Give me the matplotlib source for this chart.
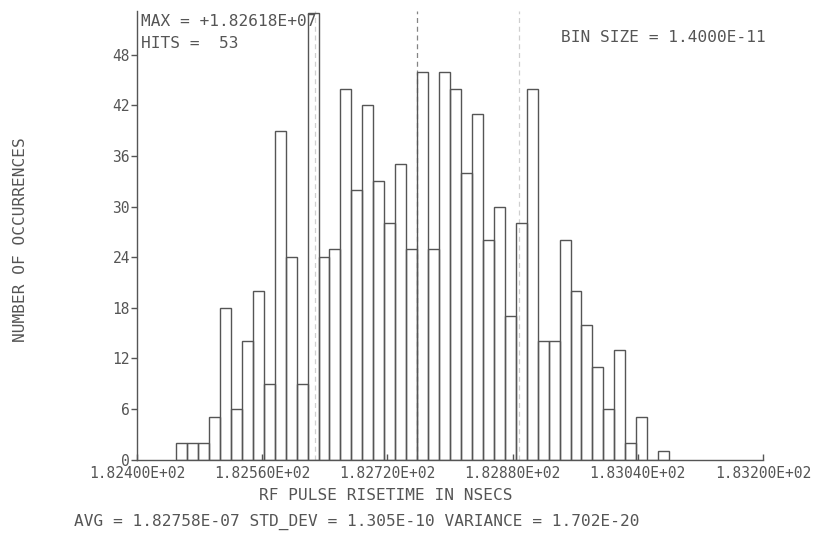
import matplotlib
matplotlib.use('Agg')  # no display
import matplotlib.pyplot as plt
import numpy as np

# histogram of RF pulse risetime (nsecs), one count per 0.014 ns bin
bin_start = 182.450
bin_size = 0.014
counts = [2, 2, 2, 5, 18, 6, 14, 20, 9, 39, 24, 9, 53, 24, 25, 44, 32, 42,
          33, 28, 35, 25, 46, 25, 46, 44, 34, 41, 26, 30, 17, 28, 44, 14, 14,
          26, 20, 16, 11, 6, 13, 2, 5, 0, 1]

x_ticks = [182.400, 182.560, 182.720, 182.880, 183.040, 183.200]
x_tick_labels = ['1.82400E+02', '1.82560E+02', '1.82720E+02',
                 '1.82880E+02', '1.83040E+02', '1.83200E+02']
y_ticks = [0, 6, 12, 18, 24, 30, 36, 42, 48]
y_tick_labels = ['0', '6', '12', '18', '24', '30', '36', '42', '48']

avg = 182.758
std_dev = 0.1305

W, H = 818, 536
INK = '#555555'
FONT = 'DejaVu Sans Mono'

fig = plt.figure(figsize=(W / 100, H / 100), dpi=100)
fig.patch.set_facecolor('white')

def fx(px):
    return px / W

def fy(py):
    return 1 - py / H

ax = fig.add_axes([fx(137), fy(459.5), fx(763) - fx(137), fy(11) - fy(459.5)])

# bars drawn as open rectangles
edges = bin_start + bin_size * np.arange(len(counts))
ax.bar(edges, counts, width=bin_size, align='edge', fill=False,
       edgecolor=INK, linewidth=1.0, zorder=3)

# dashed markers at the mean and mean +/- one standard deviation
for xv, a in [(avg, 0.9), (avg - std_dev, 0.35), (avg + std_dev, 0.35)]:
    ax.axvline(xv, ymin=0, ymax=1, color='#777777', linestyle=(0, (4, 3)),
               linewidth=0.9, alpha=a, zorder=2)

ax.set_xlim(x_ticks[0], x_ticks[-1])
ax.set_ylim(0, 53.2)

ax.spines['top'].set_visible(False)
ax.spines['right'].set_visible(False)
for s in ('left', 'bottom'):
    ax.spines[s].set_color(INK)
    ax.spines[s].set_linewidth(1.0)

ax.set_xticks(x_ticks)
ax.set_xticklabels(x_tick_labels, fontfamily=FONT, fontsize=10.5, color=INK)
ax.set_yticks(y_ticks)
ax.set_yticklabels(y_tick_labels, fontfamily=FONT, fontsize=10.5, color=INK)
ax.tick_params(axis='x', direction='in', length=4, width=1, color=INK, pad=5)
ax.tick_params(axis='y', direction='out', length=4, width=1, color=INK, pad=1)

txt = dict(fontfamily=FONT, fontsize=11.6, color=INK)
fig.text(fx(141), fy(21), 'MAX = +1.82618E+07', ha='left', va='center', **txt)
fig.text(fx(141), fy(44), 'HITS =  53', ha='left', va='center', **txt)
fig.text(fx(561), fy(37), 'BIN SIZE = 1.4000E-11', ha='left', va='center', **txt)
fig.text(fx(21), fy(240), 'NUMBER OF OCCURRENCES', rotation=90,
         ha='center', va='center', **txt)
fig.text(fx(386), fy(495), 'RF PULSE RISETIME IN NSECS', ha='center',
         va='center', **txt)
fig.text(fx(74), fy(522),
         'AVG = 1.82758E-07 STD_DEV = 1.305E-10 VARIANCE = 1.702E-20',
         ha='left', va='center', **txt)

fig.savefig('out.png', dpi=100, facecolor='white')
